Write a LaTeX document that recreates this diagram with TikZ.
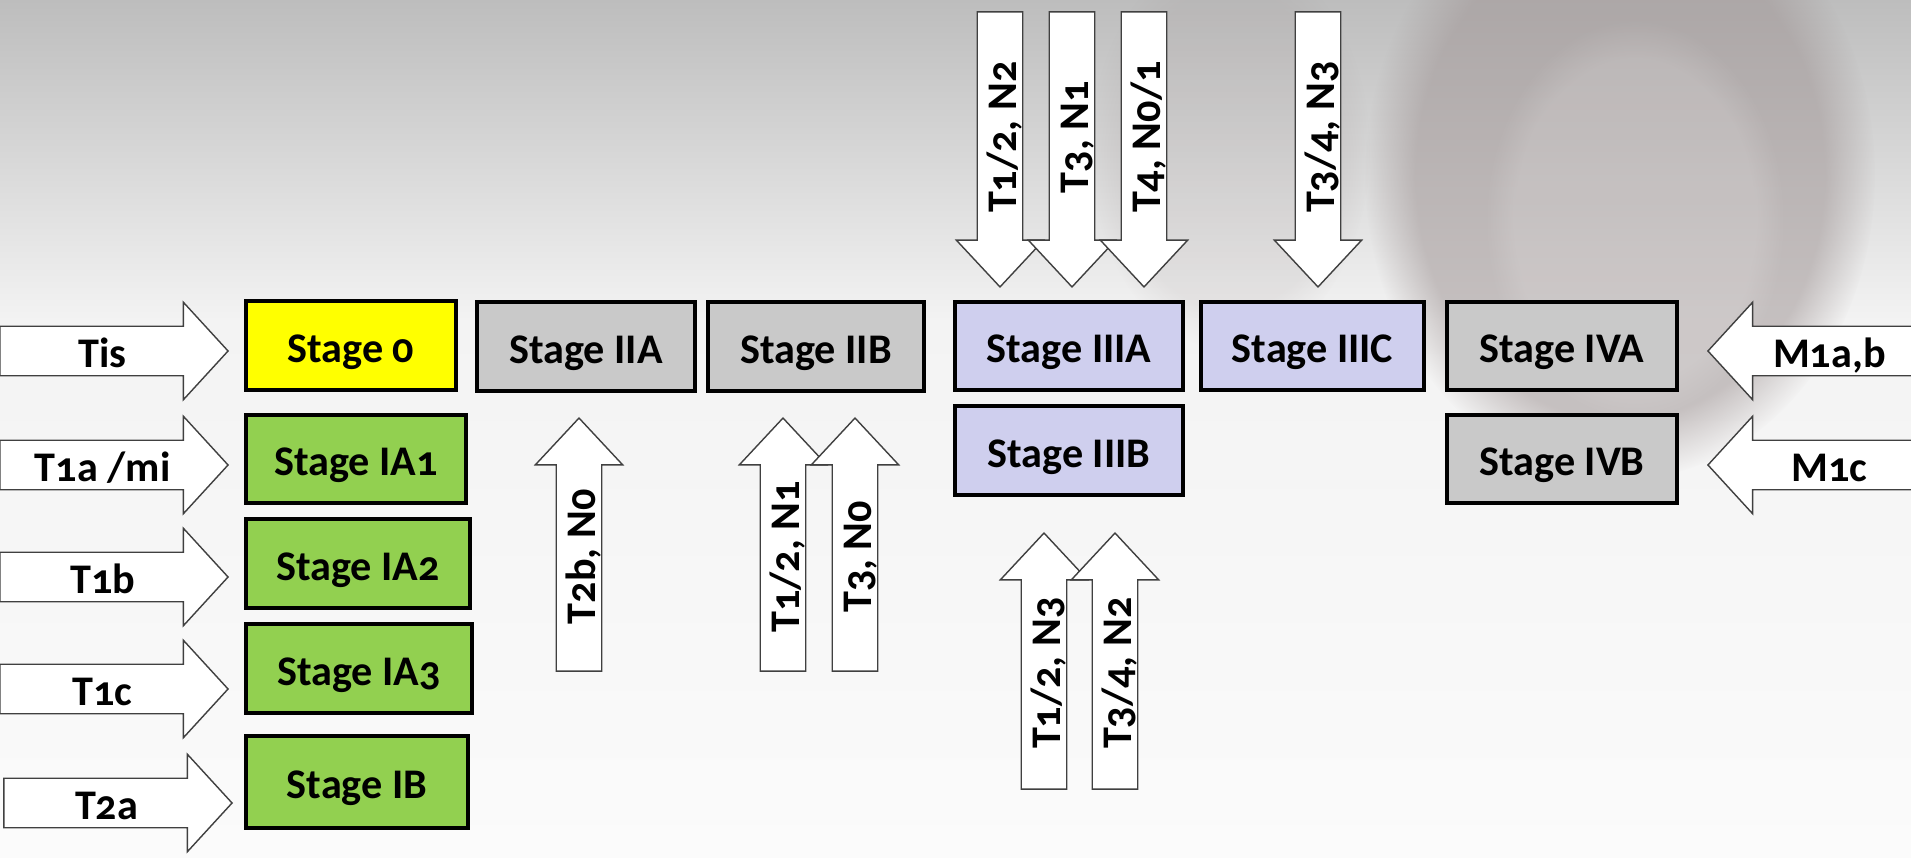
\documentclass[tikz,border=0pt]{standalone}
\usepackage{fontspec}
\setmainfont{Carlito}[Numbers=OldStyle]
\usetikzlibrary{shapes.arrows,fadings}
\definecolor{sun}{HTML}{FFFF00}
\definecolor{leaf}{HTML}{92D050}
\definecolor{ash}{HTML}{C9C9C9}
\definecolor{lilac}{HTML}{CFCFEE}
\definecolor{haze}{HTML}{BDBDBD}
\definecolor{mist}{HTML}{F3F3F3}
\definecolor{paper}{HTML}{FBFBFB}
\definecolor{face}{HTML}{A09696}
\tikzset{
  every node/.style={font=\bfseries\fontsize{12}{14}\selectfont},
  stage/.style={draw=black,line width=0.95pt,minimum height=0.89cm,inner sep=0pt,text height=0.40cm,text depth=0.07cm},
  harr/.style={single arrow,draw=black!75,fill=white,inner xsep=0pt,inner ysep=0pt,text height=0.40cm,text depth=0.08cm,single arrow head extend=0.24cm,single arrow tip angle=95},
  varr/.style={single arrow,draw=black!75,fill=white,rotate=90,inner xsep=0pt,inner ysep=0pt,text height=0.38cm,text depth=0.06cm,single arrow head extend=0.21cm,single arrow tip angle=86},
  uparr/.style={varr,minimum height=#1},
  dnarr/.style={varr,shape border rotate=180,minimum height=#1},
}
\begin{document}
\begin{tikzpicture}[x=0.01cm,y=-0.01cm]
  % backdrop
  \useasboundingbox (0,0) rectangle (1911,858);
  \shade[top color=haze,bottom color=mist] (0,0) rectangle (1911,320);
  \shade[top color=mist,bottom color=paper] (0,320) rectangle (1911,858);
  \fill[face,opacity=.55,path fading=circle with fuzzy edge 20 percent] (1620,175) ellipse (255 and 305);
  \fill[white,opacity=.15,path fading=circle with fuzzy edge 20 percent] (1635,220) ellipse (150 and 200);
  \fill[face,opacity=.15,path fading=circle with fuzzy edge 20 percent] (1230,150) ellipse (140 and 200);

  % stages
  \node[stage,fill=sun,minimum width=2.10cm] (s0) at (351,345.5) {Stage 0};
  \node[stage,fill=leaf,minimum width=2.20cm,minimum height=0.88cm] (sia1) at (356,459) {Stage IA1};
  \node[stage,fill=leaf,minimum width=2.24cm] (sia2) at (358,563.5) {Stage IA2};
  \node[stage,fill=leaf,minimum width=2.26cm] (sia3) at (359,668.5) {Stage IA3};
  \node[stage,fill=leaf,minimum width=2.22cm,minimum height=0.92cm] (sib) at (357,782) {Stage IB};
  \node[stage,fill=ash,minimum width=2.18cm] (siia) at (586,346.5) {Stage IIA};
  \node[stage,fill=ash,minimum width=2.16cm] (siib) at (816,346.5) {Stage IIB};
  \node[stage,fill=lilac,minimum width=2.28cm,minimum height=0.88cm] (siiia) at (1069,346) {Stage IIIA};
  \node[stage,fill=lilac,minimum width=2.28cm] (siiib) at (1069,450.5) {Stage IIIB};
  \node[stage,fill=lilac,minimum width=2.23cm,minimum height=0.88cm] (siiic) at (1312.5,346) {Stage IIIC};
  \node[stage,fill=ash,minimum width=2.30cm,minimum height=0.88cm] (siva) at (1562,346) {Stage IVA};
  \node[stage,fill=ash,minimum width=2.30cm,minimum height=0.88cm] (sivb) at (1562,459) {Stage IVB};

  % arrows from the left
  \node[harr,minimum height=2.28cm,anchor=tip] (tis) at (229,351) {Tis};
  \node[harr,minimum height=2.28cm,anchor=tip] (t1a) at (229,465) {T1a /mi};
  \node[harr,minimum height=2.28cm,anchor=tip] (t1b) at (229,577) {T1b};
  \node[harr,minimum height=2.28cm,anchor=tip] (t1c) at (229,689) {T1c};
  \node[harr,minimum height=2.28cm,anchor=tip] (t2a) at (233,803) {T2a};

  % arrows from the right
  \node[harr,shape border rotate=180,minimum height=2.20cm,anchor=tip] (m1ab) at (1707,351) {M1a,b};
  \node[harr,shape border rotate=180,minimum height=2.20cm,anchor=tip] (m1c) at (1707,465) {M1c};

  % arrows from below
  \node[uparr=2.53cm,anchor=tip] (t2bn0) at (579,417) {T2b, N0};
  \node[uparr=2.53cm,anchor=tip] (t12n1) at (783,417) {T1/2, N1};
  \node[uparr=2.53cm,anchor=tip] (t3n0) at (855,417) {T3, N0};
  \node[uparr=2.56cm,anchor=tip] (t12n3) at (1044,532) {T1/2, N3};
  \node[uparr=2.56cm,anchor=tip] (t34n2) at (1115,532) {T3/4, N2};

  % arrows from above
  \node[dnarr=2.75cm,anchor=tip] (t12n2) at (1000,288) {T1/2, N2};
  \node[dnarr=2.75cm,anchor=tip] (t3n1) at (1072,288) {T3, N1};
  \node[dnarr=2.75cm,anchor=tip] (t4n01) at (1144,288) {T4, N0/1};
  \node[dnarr=2.75cm,anchor=tip] (t34n3) at (1318,288) {T3/4, N3};
\end{tikzpicture}
\end{document}
